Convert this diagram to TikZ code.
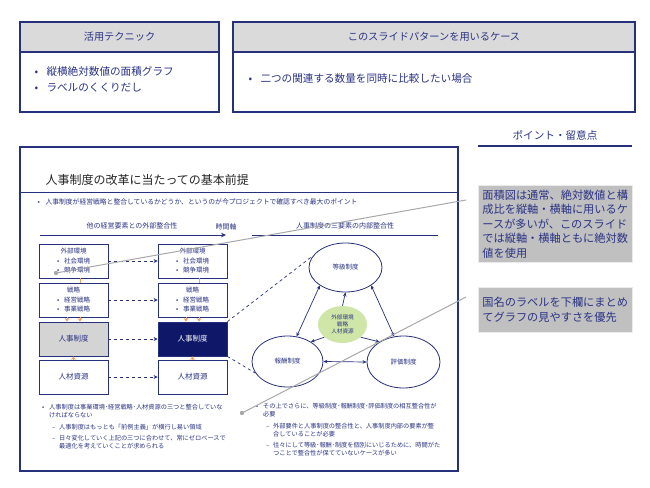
\documentclass[tikz,border=0pt]{standalone}
\usepackage{fontspec}
\setmainfont{Noto Sans CJK JP}
\usetikzlibrary{arrows.meta}
\usetikzlibrary{shapes.geometric}

\definecolor{navy}{HTML}{27307C}
\definecolor{ink}{HTML}{2B3384}
\definecolor{hdrgray}{HTML}{DADADA}
\definecolor{notegray}{HTML}{C0C0C0}
\definecolor{leadgray}{HTML}{A8A8A8}
\definecolor{amber}{HTML}{F0A060}
\definecolor{leaf}{HTML}{CFE6A8}
\definecolor{deepnavy}{HTML}{0F1868}

\newcommand{\fs}[2]{\fontsize{#1}{#2}\selectfont}
\newcommand{\bul}[1]{\makebox[#1][l]{\textcolor{navy}{•}}}
\newcommand{\itemdash}[1]{\makebox[#1][l]{–}}

\begin{document}
\begin{tikzpicture}[x=1pt,y=-1pt,
    frame/.style={draw=navy,line width=1.2pt},
    cell/.style={draw=navy,line width=0.8pt,fill=white,minimum width=69pt,minimum height=34pt,
      inner sep=0pt,align=center,text=ink,font=\fs{6.5}{9.5}},
    orb/.style={ellipse,draw=navy,line width=0.8pt,fill=white,inner sep=0pt,text=ink,font=\fs{6.5}{8}},
    note/.style={fill=notegray,draw=black!8,line width=0.8pt,minimum width=154pt,inner sep=4pt,
      text width=146pt,align=left,text=ink,font=\fs{11.2}{14.5}},
    link/.style={draw=navy,dashed,line width=0.7pt,-{Stealth[length=4pt,width=4pt]}},
    both/.style={draw=navy,line width=0.7pt,{Stealth[length=4pt,width=3.5pt]}-{Stealth[length=4pt,width=3.5pt]}},
    spoke/.style={draw=navy,line width=0.7pt,-{Stealth[length=4pt,width=3.5pt]}},
    feed/.style={draw=amber,line width=0.8pt,-{Stealth[length=3.5pt,width=4.5pt]}},
    lead/.style={draw=leadgray,line width=1pt}
  ]%
  \useasboundingbox (0,0) rectangle (650,487);

  % upper panels
  \draw[frame,fill=white] (20,22) rectangle (219,112);
  \draw[frame,fill=hdrgray] (20,22) rectangle (219,52);
  \node[text=ink,font=\fs{10.2}{12}] (techhead) at (119.5,37) {活用テクニック};
  \node[anchor=west,align=left,text=ink,font=\fs{10.6}{16}] (techlist) at (31,79)
    {\bul{12pt}縦横絶対数値の面積グラフ\\\bul{12pt}ラベルのくくりだし};

  \draw[frame,fill=white] (233,22) rectangle (635,112);
  \draw[frame,fill=hdrgray] (233,22) rectangle (635,52);
  \node[text=ink,font=\fs{10.2}{12}] (casehead) at (434,37) {このスライドパターンを用いるケース};
  \node[anchor=west,text=ink,font=\fs{10.6}{16}] (caselist) at (245,78)
    {\bul{12pt}二つの関連する数量を同時に比較したい場合};

  % points
  \node[text=ink,font=\fs{10.6}{12}] (pointhead) at (555,135) {ポイント・留意点};
  \draw[navy,line width=1.2pt] (478,146) -- (632,146);
  \node[note,anchor=north west,minimum height=77pt] (note1) at (478,185)
    {面積図は通常、絶対数値と構\\成比を縦軸・横軸に用いるケ\\ースが多いが、このスライド\\では縦軸・横軸ともに絶対数\\値を使用};
  \node[note,anchor=north west,minimum height=45pt] (note2) at (478,287)
    {国名のラベルを下欄にまとめ\\てグラフの見やすさを優先};

  % slide
  \draw[frame,fill=white] (20,147) rectangle (458,471);
  \node[anchor=base west,font=\fs{12}{14},text=black!85] (title) at (42,184.5) {人事制度の改革に当たっての基本前提};
  \draw[navy,line width=1pt] (20,192) -- (458,192);
  \node[anchor=west,text=ink,font=\fs{6.8}{8}] (lead) at (34,202)
    {\bul{8pt}人事制度が経営戦略と整合しているかどうか、というのが今プロジェクトで確認すべき最大のポイント};

  \node[text=ink,font=\fs{7}{8}] (outerhead) at (132,226) {他の経営要素との外部整合性};
  \node[text=ink,font=\fs{7}{8}] (timehead) at (226,227) {時間軸};
  \node[text=ink,font=\fs{7}{8}] (innerhead) at (345,226) {人事制度の三要素の内部整合性};
  \coordinate (t0) at (40,235);
  \coordinate (t1) at (226,235);
  \coordinate (t2) at (252,235);
  \coordinate (t3) at (438,235);
  \draw[navy,line width=0.9pt,-{Stealth[length=5pt,width=4.5pt]}] (t0) -- (t1);
  \draw[navy,line width=0.9pt] (t2) -- (t3);

  \node[cell] (env-a) at (73.5,261) {外部環境\\\bul{7pt}社会環境\\\bul{7pt}競争環境};
  \node[cell] (strat-a) at (73.5,300) {戦略\\\bul{7pt}経営戦略\\\bul{7pt}事業戦略};
  \node[cell,fill=black!17,font=\fs{7.5}{9}] (hr-a) at (73.5,339) {人事制度};
  \node[cell,font=\fs{7.5}{9}] (talent-a) at (73.5,377) {人材資源};
  \node[cell] (env-b) at (192.5,261) {外部環境\\\bul{7pt}社会環境\\\bul{7pt}競争環境};
  \node[cell] (strat-b) at (192.5,300) {戦略\\\bul{7pt}経営戦略\\\bul{7pt}事業戦略};
  \node[cell,fill=deepnavy,text=white,font=\fs{7.5}{9}] (hr-b) at (192.5,339) {人事制度};
  \node[cell,font=\fs{7.5}{9}] (talent-b) at (192.5,377) {人材資源};

  \foreach \r in {env,strat,hr,talent}
    \draw[link] (\r-a) -- (\r-b);
  \foreach \c in {a,b} {
    \draw[amber,line width=0.8pt] ([xshift=6.5pt]env-\c.south) -- ([xshift=6.5pt]strat-\c.north);
    \draw[feed] ([xshift=-6.5pt]strat-\c.south) -- ([xshift=-6.5pt]hr-\c.north);
    \draw[feed] ([xshift=6.5pt]strat-\c.south) -- ([xshift=6.5pt]hr-\c.north);
    \draw[feed] (talent-\c) -- (hr-\c);
  }

  \node[orb,minimum width=73pt,minimum height=49pt] (grade) at (345.5,267.5) {等級制度};
  \node[orb,minimum width=71pt,minimum height=51pt] (pay) at (287.5,361.5) {報酬制度};
  \node[orb,minimum width=73pt,minimum height=52pt] (eval) at (403.5,362) {評価制度};
  \node[ellipse,fill=leaf,inner sep=0pt,minimum width=49pt,minimum height=37pt,align=center,
    text=ink,font=\fs{5.6}{7}] (core) at (342.5,324.5) {外部環境\\戦略\\人材資源};

  \draw[both] (grade.215) -- (pay.70);
  \draw[both] (grade.325) -- (eval.110);
  \draw[both] (pay.east) -- (eval.west);
  \draw[spoke] (core.north) -- (grade.south);
  \draw[spoke] (core.215) -- (pay.40);
  \draw[spoke] (core.325) -- (eval.140);
  \draw[navy,dashed,line width=0.7pt] (hr-b.north east) -- (grade.160);
  \draw[navy,dashed,line width=0.7pt] (hr-b.south east) -- (pay.200);

  \node[anchor=north west,inner sep=0pt,align=left,text=ink,font=\fs{6.2}{8}] (leftnotes) at (42,404.5)
    {\bul{7pt}人事制度は事業環境･経営戦略･人材資源の三つと整合していな\\
     \hspace{7pt}ければならない\\[3.5pt]
     \hspace{10pt}\itemdash{7pt}人事制度はもっとも「前例主義」が横行し易い領域\\[3.5pt]
     \hspace{10pt}\itemdash{7pt}日々変化していく上記の三つに合わせて、常にゼロベースで\\
     \hspace{17pt}最適化を考えていくことが求められる};
  \node[anchor=north west,inner sep=0pt,align=left,text=ink,font=\fs{6.2}{8}] (rightnotes) at (256,403.5)
    {\bul{7pt}その上でさらに、等級制度･報酬制度･評価制度の相互整合性が\\
     \hspace{7pt}必要\\[3.5pt]
     \hspace{10pt}\itemdash{7pt}外部要件と人事制度の整合性と、人事制度内部の要素が整\\
     \hspace{17pt}合していることが必要\\[3.5pt]
     \hspace{10pt}\itemdash{7pt}往々にして等級･報酬･制度を個別にいじるために、時間がた\\
     \hspace{17pt}つことで整合性が保てていないケースが多い};

  % lead lines to the notes
  \coordinate (pin1) at (56,273);
  \coordinate (tail1) at (466,200);
  \coordinate (pin2) at (242,413);
  \coordinate (tail2) at (466,297);
  \draw[lead] (tail1) -- (pin1);
  \draw[lead] (tail2) -- (pin2);
  \fill[leadgray] (pin1) circle (2.2pt);
  \fill[leadgray] (pin2) circle (2.2pt);
\end{tikzpicture}
\end{document}
